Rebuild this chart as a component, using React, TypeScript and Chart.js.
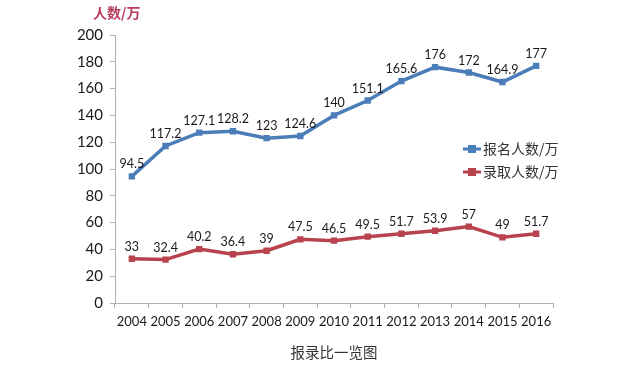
import React, { useEffect, useRef } from "react";
import { Chart, registerables } from "chart.js";

Chart.register(...registerables);

const years = ["2004", "2005", "2006", "2007", "2008", "2009", "2010", "2011", "2012", "2013", "2014", "2015", "2016"];
const applicants = [94.5, 117.2, 127.1, 128.2, 123, 124.6, 140, 151.1, 165.6, 176, 172, 164.9, 177];
const admitted = [33, 32.4, 40.2, 36.4, 39, 47.5, 46.5, 49.5, 51.7, 53.9, 57, 49, 51.7];
const seriesNames = ["报名人数/万", "录取人数/万"];
const unitTitle = "人数/万";
const bottomTitle = "报录比一览图";

const BLUE = "#4b7db8";
const RED = "#b8434e";
const NUM_FONT = "Lato, 'Liberation Sans', sans-serif";
const CJK_FONT = "'Noto Sans CJK SC', sans-serif";

const decorPlugin = {
  id: "decor",
  afterDatasetsDraw(chart: any) {
    const ctx = chart.ctx;
    ctx.save();
    // data labels
    ctx.font = `12.5px ${NUM_FONT}`;
    ctx.fillStyle = "#1a1a1a";
    ctx.textAlign = "center";
    ctx.textBaseline = "middle";
    chart.data.datasets.forEach((ds: any, i: number) => {
      const meta = chart.getDatasetMeta(i);
      meta.data.forEach((pt: any, j: number) => {
        ctx.fillText(String(ds.data[j]), pt.x, pt.y - 12);
      });
    });
    // legend
    const colors = [BLUE, RED];
    const ys = [149, 172];
    seriesNames.forEach((name, i) => {
      const y = ys[i];
      ctx.strokeStyle = colors[i];
      ctx.lineWidth = 3;
      ctx.beginPath();
      ctx.moveTo(463, y);
      ctx.lineTo(481, y);
      ctx.stroke();
      ctx.fillStyle = colors[i];
      ctx.fillRect(468, y - 4, 8, 8);
      ctx.fillStyle = "#333";
      ctx.font = `14px ${CJK_FONT}`;
      ctx.textAlign = "left";
      ctx.textBaseline = "middle";
      ctx.fillText(name, 483, y);
    });
    // unit title
    ctx.fillStyle = "#b83b5e";
    ctx.font = `bold 14px ${CJK_FONT}`;
    ctx.textAlign = "left";
    ctx.fillText(unitTitle, 93, 13);
    // bottom title
    ctx.fillStyle = "#333";
    ctx.font = `14.5px ${CJK_FONT}`;
    ctx.textAlign = "center";
    ctx.fillText(bottomTitle, 334, 352);
    ctx.restore();
  },
};

export default function App() {
  const ref = useRef<HTMLCanvasElement>(null);
  useEffect(() => {
    document.body.style.margin = "0";
    const chart = new Chart(ref.current!, {
      type: "line",
      data: {
        labels: years,
        datasets: [
          {
            label: seriesNames[0],
            data: applicants,
            borderColor: BLUE,
            backgroundColor: BLUE,
            borderWidth: 3.5,
            pointStyle: "rect",
            pointRadius: 4.5,
            pointBorderWidth: 0,
          },
          {
            label: seriesNames[1],
            data: admitted,
            borderColor: RED,
            backgroundColor: RED,
            borderWidth: 3.5,
            pointStyle: "rect",
            pointRadius: 4.5,
            pointBorderWidth: 0,
          },
        ],
      },
      options: {
        animation: false,
        responsive: false,
        layout: { padding: { top: 35, right: 87, left: 0, bottom: 0 } },
        plugins: { legend: { display: false }, tooltip: { enabled: false } },
        scales: {
          x: {
            type: "category",
            offset: true,
            grid: { offset: true, drawOnChartArea: false, drawTicks: true, tickLength: 5, color: "#b0b0b0" },
            border: { display: true, color: "#b0b0b0", width: 1 },
            ticks: { color: "#1a1a1a", font: { family: NUM_FONT, size: 13 }, padding: 6, maxRotation: 0 },
            afterFit: (s: any) => { s.height = 69; },
          },
          y: {
            min: 0,
            max: 200,
            grid: { drawOnChartArea: false, drawTicks: true, tickLength: 5, color: "#b0b0b0" },
            border: { display: true, color: "#b0b0b0", width: 1 },
            ticks: { stepSize: 20, color: "#1a1a1a", font: { family: NUM_FONT, size: 15 }, padding: 7 },
            afterFit: (s: any) => { s.width = 115; },
          },
        },
      },
      plugins: [decorPlugin],
    } as any);
    return () => chart.destroy();
  }, []);
  return (
    <div style={{ width: 640, height: 372, background: "#fff" }}>
      <canvas ref={ref} width={640} height={372} style={{ display: "block" }} />
    </div>
  );
}
